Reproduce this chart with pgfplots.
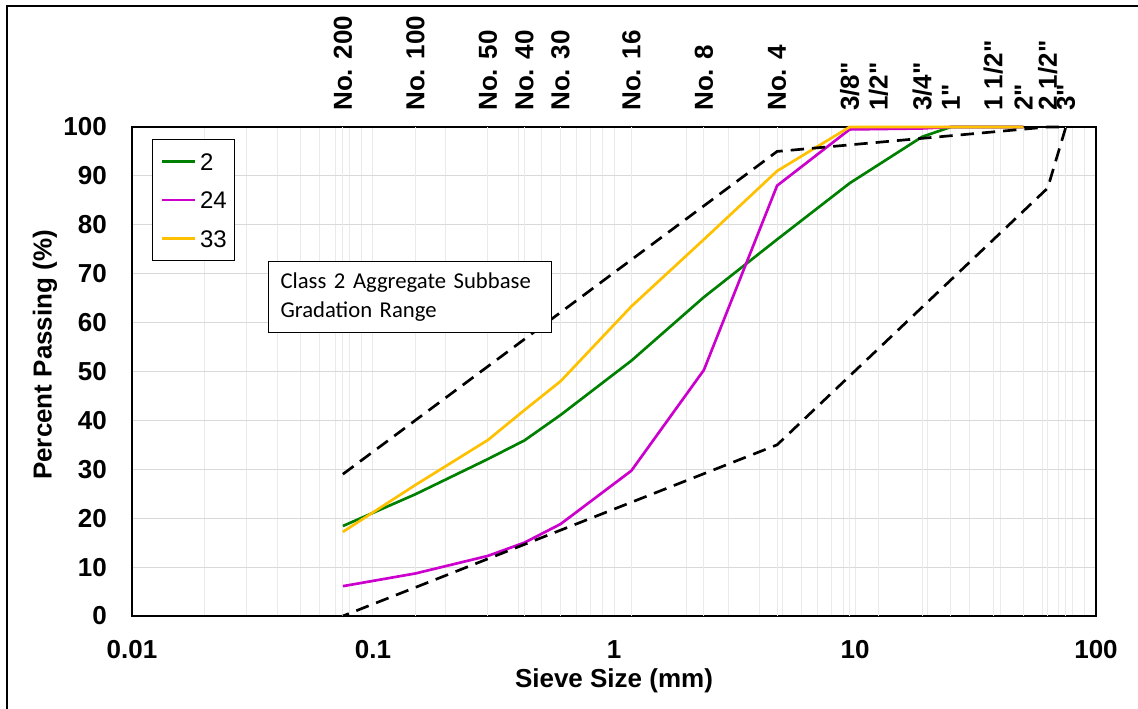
\documentclass[border=0pt]{standalone}
\usepackage{fontspec}
\setmainfont{Liberation Sans}[Ligatures=TeXOff]
\newfontfamily\carlito{Carlito}
\usepackage{pgfplots}
\pgfplotsset{compat=1.18}
\definecolor{sgreen}{RGB}{0,128,0}
\definecolor{smag}{RGB}{204,0,204}
\definecolor{syel}{RGB}{255,192,0}
\definecolor{gridlight}{RGB}{217,217,217}
\definecolor{gridminor}{RGB}{234,234,234}
\definecolor{griddark}{RGB}{166,166,166}
\newcommand{\tickfont}{\fontsize{19.5}{20}\selectfont\bfseries}
\begin{document}
\begin{tikzpicture}
\useasboundingbox (0,0) rectangle (853.5pt,531.75pt);

% main axis
\begin{axis}[
  at={(99pt,69.75pt)}, anchor=south west, scale only axis,
  width=723pt, height=366.75pt,
  xmode=log, xmin=0.01, xmax=100, ymin=0, ymax=100,
  xtick={0.01,0.1,1,10,100}, xticklabels={0.01,0.1,1,10,100},
  ytick={0,10,20,30,40,50,60,70,80,90,100},
  yticklabels={0,10,20,30,40,50,60,70,80,90,100},
  xminorgrids=true, xmajorgrids=true, ymajorgrids=true,
  major x grid style={gridminor, line width=0.75pt},
  minor x grid style={gridminor, line width=0.75pt},
  major y grid style={gridlight, line width=0.75pt},
  extra x ticks={0.075,0.15,0.3,0.425,0.6,1.18,2.36,4.75,9.5,12.5,19,25,37.5,50,63,75},
  extra x tick labels={},
  extra x tick style={grid=major, major grid style={griddark, line width=0.75pt}},
  major tick length=0pt, minor tick length=0pt,
  tick label style={font=\tickfont},
  xticklabel style={anchor=north, inner sep=0pt, yshift=-18pt},
  yticklabel style={anchor=east, inner sep=0pt, xshift=-18.75pt},
  axis line style={line width=1pt, black},
  xlabel={Sieve Size (mm)}, ylabel={Percent Passing (\%)},
  label style={font=\tickfont},
  xlabel style={at={(rel axis cs:0.5,0)}, anchor=north, inner sep=0pt, yshift=-39pt},
  ylabel style={at={(rel axis cs:-0.0903,0.534)}, anchor=center, inner sep=0pt},
  clip=false,
  legend style={at={(rel axis cs:0.0207,0.9755)}, anchor=north west, draw=black,
    line width=0.75pt, fill=white, inner xsep=6pt, inner ysep=10pt, row sep=16pt,
    nodes={inner sep=0pt, text height=13pt, text depth=0pt, font=\fontsize{18}{18}\selectfont}},
  legend cell align=left,
  legend image code/.code={\draw[#1] (0pt,0pt) -- (24.75pt,0pt); \path (27.75pt,0pt);},
]
\addplot[sgreen, line width=2pt] coordinates {
  (0.075,18.4) (0.15,24.9) (0.3,32.1) (0.425,35.9) (0.6,41.1) (1.18,52.2)
  (2.36,65.2) (4.75,77) (9.5,88.5) (19,98) (25,100) (37.5,100) (50,100)};
\addlegendentry{2}
\addplot[smag, line width=2pt] coordinates {
  (0.075,6.1) (0.15,8.7) (0.3,12.3) (0.425,15) (0.6,18.8) (1.18,29.7)
  (2.36,50.3) (4.75,88) (9.5,99.5) (19,99.7) (25,100) (37.5,100) (50,100)};
\addlegendentry{24}
\addplot[syel, line width=2pt] coordinates {
  (0.075,17.2) (0.15,26.8) (0.3,36) (0.425,42.1) (0.6,48) (1.18,63.3)
  (2.36,77) (4.75,91) (9.5,100) (19,100) (25,100) (37.5,100) (50,100)};
\addlegendentry{33}
\addplot[black, line width=2pt, dash pattern=on 10pt off 6pt, forget plot] coordinates {
  (0.075,29) (4.75,95) (63,100) (75,100) (63,87.5) (4.75,35) (0.075,0)};
\node[draw=black, line width=0.75pt, fill=white, anchor=north west, inner xsep=9.1pt,
  inner ysep=0pt, text width=194pt, minimum height=53.25pt, align=left,
  font=\carlito\fontsize{17}{21.75}\selectfont] at (rel axis cs:0.141,0.726)
  {Class 2 Aggregate Subbase\\Gradation Range};
\end{axis}

% top sieve labels
\begin{axis}[
  at={(99pt,69.75pt)}, anchor=south west, scale only axis,
  width=723pt, height=366.75pt,
  xmode=log, xmin=0.01, xmax=100, ymin=0, ymax=100,
  axis x line*=top, hide y axis,
  axis line style={draw=none},
  xtick={0.075,0.15,0.3,0.425,0.6,1.18,2.36,4.75,9.5,12.5,19,25,37.5,50,63,75},
  xticklabels={No. 200,No. 100,No. 50,No. 40,No. 30,No. 16,No. 8,No. 4,3/8",1/2",3/4",1",1 1/2",2",2 1/2",3"},
  minor xtick={},
  major tick length=0pt, minor tick length=0pt,
  xticklabel style={font=\tickfont, yshift=12pt, rotate=90, anchor=west, inner sep=0pt},
]
\end{axis}

\draw[line width=1.5pt] (5.25pt,-5pt) -- (5.25pt,526.9pt) -- (860pt,526.9pt);
\end{tikzpicture}
\end{document}
